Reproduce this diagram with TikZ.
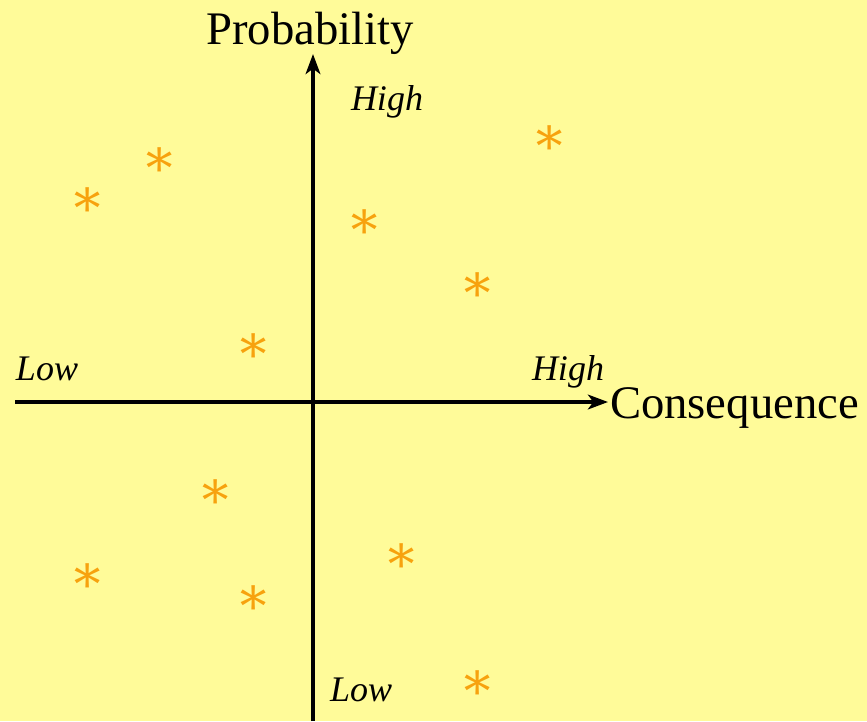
\documentclass[tikz,border=0pt]{standalone}
\usepackage{fontspec}
\setmainfont{Liberation Serif}
\newfontfamily\starfont{DejaVu Serif}
\usetikzlibrary{arrows.meta, positioning}
\definecolor{cbg}{HTML}{FFFB99}
\definecolor{corange}{HTML}{F7A20E}
\tikzset{
  every picture/.style={line width=3pt},
  axis/.style={-{Stealth[length=15pt, width=11pt, inset=4pt]}, draw=black},
  axtitle/.style={font=\fontsize{35}{35}\selectfont, anchor=base, inner sep=0pt},
  level/.style={font=\fontsize{27}{27}\selectfont\itshape, anchor=base, inner sep=0pt},
  risk/.style={text=corange, inner sep=0pt, font=\fontsize{40}{40}\selectfont\starfont},
}
\begin{document}
\begin{tikzpicture}[x=0.75pt, y=-0.75pt]
  \fill[cbg] (0,0) rectangle (867,721);
  \useasboundingbox (0,0) rectangle (867,721);
  % axes
  \coordinate (xl) at (15,402);
  \coordinate (xr) at (608,402);
  \coordinate (yb) at (313,721);
  \coordinate (yt) at (313,54);
  \draw[axis] (xl) -- (xr);
  \draw[axis] (yb) -- (yt);
  \node[axtitle] (prob) at (310,44) {Probability};
  \node[axtitle, anchor=base west] (cons) at (608,418) {Consequence};
  \node[level, anchor=base west] (yhigh) at (349,110) {High};
  \node[level, anchor=base west] (ylow) at (328,701) {Low};
  \node[level, anchor=base west] (xlow) at (14,380) {Low};
  \node[level, anchor=base east] (xhigh) at (606,380) {High};
  % risks
  \foreach \x/\y [count=\i] in {160/162, 88/202, 550/140, 365/224, 478/287, 254/348,
                                216/494, 88/578, 254/600, 402/558, 478/685} {
    \node[risk] (r\i) at (\x,\y) {∗};
  }
\end{tikzpicture}
\end{document}
